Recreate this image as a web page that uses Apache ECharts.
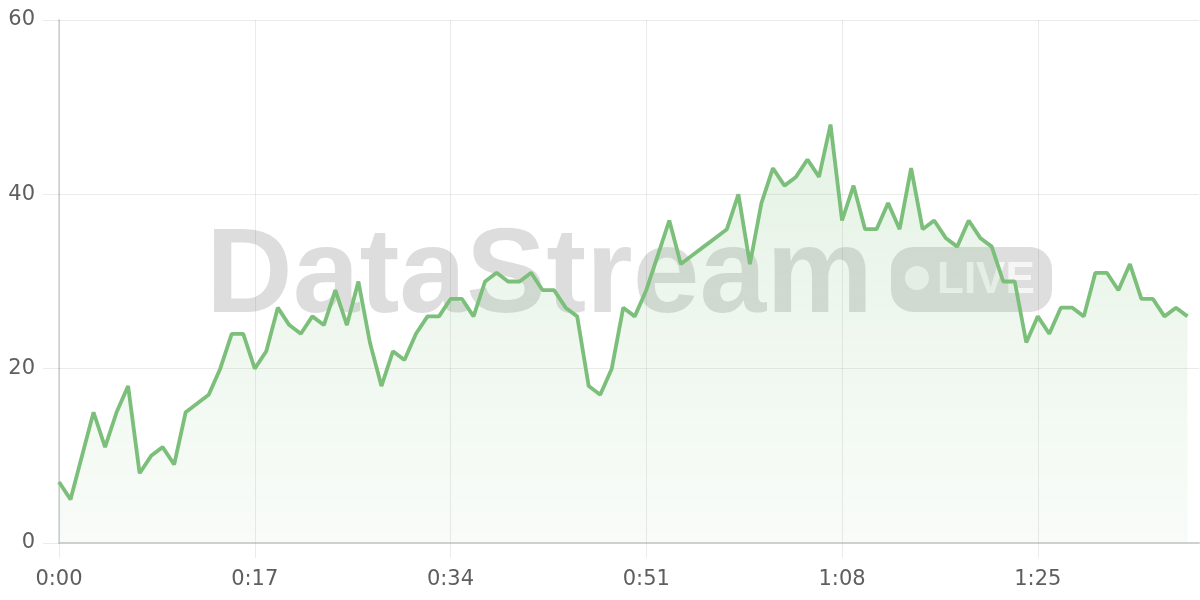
<!DOCTYPE html>
<html>
<head>
<meta charset="utf-8">
<script src="https://cdn.jsdelivr.net/npm/echarts@6/dist/echarts.min.js"></script>
<style>
html,body{margin:0;padding:0;background:#fff;}
#chart{width:1200px;height:600px;}
</style>
</head>
<body>
<div id="chart"></div>
<script>
// seconds 0..99 -> "m:ss" category labels
var categories = [];
for (var s = 0; s < 100; s++) {
  categories.push(Math.floor(s / 60) + ':' + String(s % 60).padStart(2, '0'));
}
var values = [7,5,10,15,11,15,18,8,10,11,9,15,16,17,20,24,24,20,22,27,25,24,26,25,29,25,30,23,18,22,21,24,26,26,28,28,26,30,31,30,30,31,29,29,27,26,18,17,20,27,26,29,33,37,32,33,34,35,36,40,32,39,43,41,42,44,42,48,37,41,36,36,39,36,43,36,37,35,34,37,35,34,30,30,23,26,24,27,27,26,31,31,29,32,28,28,26,27,26];
var yTicks = [0, 20, 40, 60];
var watermarkText = 'DataStream';
var badgeText = 'LIVE';

var chart = echarts.init(document.getElementById('chart'));
var labelFont = { color: '#5e5e5e', fontSize: 21, fontFamily: 'DejaVu Sans' };
chart.setOption({
  animation: false,
  grid: { left: 59, right: 1, top: 20, bottom: 57 },
  xAxis: {
    type: 'category',
    data: categories,
    boundaryGap: false,
    axisLine: { lineStyle: { color: '#d0d0d0', width: 2 } },
    axisTick: { show: true, interval: 16, length: 15, lineStyle: { color: 'rgba(0,0,0,0.08)' } },
    axisLabel: Object.assign({ interval: 16, margin: 26 }, labelFont),
    splitLine: { show: true, interval: 16, lineStyle: { color: 'rgba(0,0,0,0.08)', width: 1 } }
  },
  yAxis: {
    type: 'value',
    min: yTicks[0],
    max: yTicks[yTicks.length - 1],
    interval: yTicks[1] - yTicks[0],
    axisLine: { show: true, lineStyle: { color: 'rgba(0,0,0,0.13)', width: 2 } },
    axisTick: { show: true, length: 16, lineStyle: { color: 'rgba(0,0,0,0.08)' } },
    axisLabel: Object.assign({ margin: 24 }, labelFont),
    splitLine: { show: true, lineStyle: { color: 'rgba(0,0,0,0.08)', width: 1 } }
  },
  graphic: [
    {
      type: 'text', z: 1, silent: true,
      style: {
        x: 206, y: 279, text: watermarkText,
        font: 'bold 120px "Liberation Sans", Arial, sans-serif',
        fill: 'rgba(0,0,0,0.135)', align: 'left', verticalAlign: 'middle'
      }
    },
    {
      type: 'rect', z: 1, silent: true,
      shape: { x: 891, y: 247, width: 161, height: 65, r: 22 },
      style: { fill: 'rgba(0,0,0,0.13)' }
    },
    {
      type: 'circle', z: 1, silent: true,
      shape: { cx: 917, cy: 278, r: 12 },
      style: { fill: 'rgba(255,255,255,0.72)' }
    },
    {
      type: 'text', z: 1, silent: true,
      style: {
        x: 937, y: 281, text: badgeText,
        font: 'bold 44px "Liberation Sans", Arial, sans-serif',
        fill: 'rgba(255,255,255,0.72)', align: 'left', verticalAlign: 'middle'
      }
    }
  ],
  series: [{
    type: 'line',
    data: values,
    showSymbol: false,
    symbol: 'none',
    z: 3,
    lineStyle: { color: '#7bbf7b', width: 3.8 },
    areaStyle: {
      color: new echarts.graphic.LinearGradient(0, 0, 0, 1, [
        { offset: 0, color: 'rgba(123,191,123,0.28)' },
        { offset: 1, color: 'rgba(123,191,123,0.07)' }
      ])
    }
  }]
});
</script>
</body>
</html>
